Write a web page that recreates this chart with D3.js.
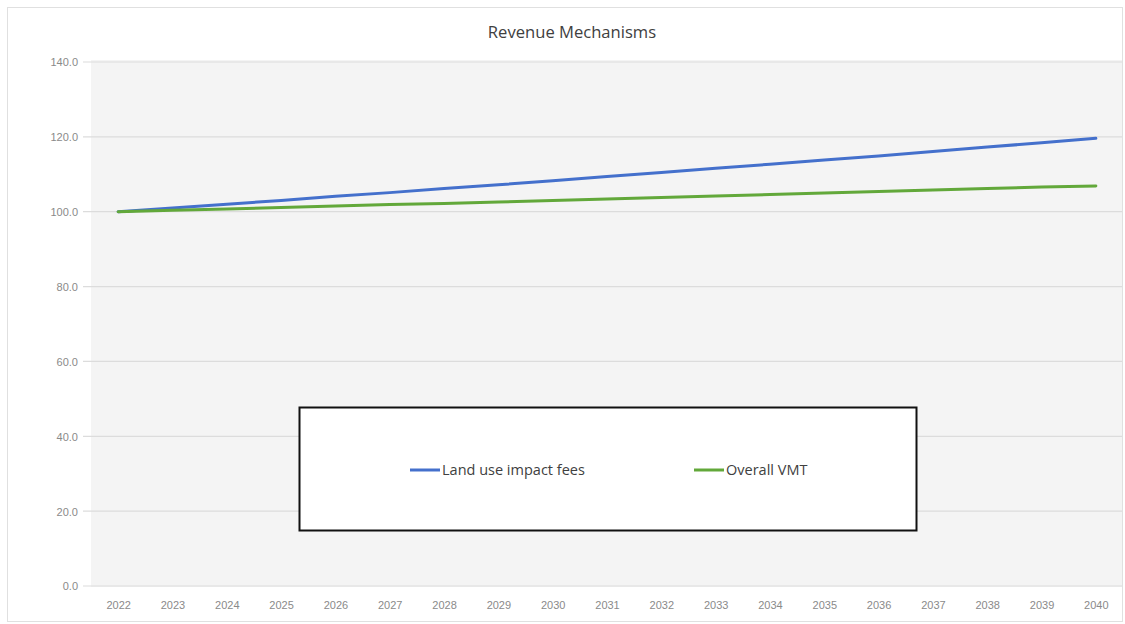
<!DOCTYPE html>
<html>
<head>
<meta charset="utf-8">
<script src="https://cdn.jsdelivr.net/npm/d3@7"></script>
<style>
  html, body { margin: 0; padding: 0; background: #ffffff; }
  svg { display: block; font-family: "Open Sans", "Noto Sans", sans-serif; }
</style>
</head>
<body>
<svg id="chart" width="1125" height="624"></svg>
<script>
// Years on the horizontal axis
const years = ["2022","2023","2024","2025","2026","2027","2028","2029","2030","2031",
               "2032","2033","2034","2035","2036","2037","2038","2039","2040"];

// Index values (2022 = 100)
const landUseFees = [100.0, 101.0, 102.0, 103.0, 104.1, 105.1, 106.2, 107.2, 108.3, 109.4,
                     110.5, 111.6, 112.7, 113.8, 114.9, 116.1, 117.3, 118.4, 119.6];
const overallVMT  = [100.0, 100.4, 100.7, 101.1, 101.5, 101.9, 102.2, 102.6, 103.0, 103.4,
                     103.8, 104.2, 104.6, 105.0, 105.4, 105.8, 106.2, 106.6, 106.9];

const yTicks = [0, 20, 40, 60, 80, 100, 120, 140];

const seriesNames = ["Land use impact fees", "Overall VMT"];
const seriesColors = ["#4470cc", "#62a83a"];

const svg = d3.select("#chart");
const W = 1125, H = 624;
const plot = { left: 91, right: 1123, top: 62, bottom: 586 };

// Outer chart frame
svg.append("rect")
  .attr("x", 7.5).attr("y", 7.5).attr("width", W - 10).attr("height", H - 10)
  .attr("fill", "#ffffff").attr("stroke", "#e0e0e0").attr("stroke-width", 1);

// Plot area background
svg.append("rect")
  .attr("x", plot.left).attr("y", plot.top - 2)
  .attr("width", 1122 - plot.left).attr("height", plot.bottom - plot.top + 3)
  .attr("fill", "#f4f4f4");

const x = d3.scalePoint().domain(years)
  .range([plot.left, plot.right]).padding(0.5);
const y = d3.scaleLinear().domain([0, 140]).range([plot.bottom, plot.top]);

// Horizontal gridlines
svg.append("g").selectAll("line").data(yTicks).join("line")
  .attr("x1", plot.left - 8).attr("x2", 1122)
  .attr("y1", d => y(d)).attr("y2", d => y(d))
  .attr("stroke", "#dcdcdc").attr("stroke-width", 1.2);

// Y axis labels
const yAxis = d3.axisLeft(y).tickValues(yTicks).tickSize(0).tickPadding(0)
  .tickFormat(d3.format(".1f"));
svg.append("g")
  .attr("transform", `translate(${plot.left - 13},0)`)
  .call(yAxis)
  .call(g => g.select(".domain").remove())
  .selectAll("text")
  .attr("fill", "#8a8a8a").attr("font-size", 11).attr("dy", "0.35em");

// X axis labels
const xAxis = d3.axisBottom(x).tickSize(0).tickPadding(0);
svg.append("g")
  .attr("transform", `translate(0,${plot.bottom + 19})`)
  .call(xAxis)
  .call(g => g.select(".domain").remove())
  .selectAll("text")
  .attr("fill", "#8a8a8a").attr("font-size", 11).attr("dy", "0.35em");

// Series lines
const line = d3.line().x((d, i) => x(years[i])).y(d => y(d));
[landUseFees, overallVMT].forEach((vals, k) => {
  svg.append("path")
    .datum(vals)
    .attr("d", line)
    .attr("fill", "none")
    .attr("stroke", seriesColors[k])
    .attr("stroke-width", 3)
    .attr("stroke-linecap", "round")
    .attr("stroke-linejoin", "round");
});

// Title
svg.append("text")
  .attr("x", 572).attr("y", 38)
  .attr("text-anchor", "middle")
  .attr("font-size", 16.6)
  .attr("fill", "#404040")
  .text("Revenue Mechanisms");

// Legend box
const legend = svg.append("g");
legend.append("rect")
  .attr("x", 299.5).attr("y", 407.5).attr("width", 617).attr("height", 123)
  .attr("fill", "#ffffff").attr("stroke", "#111111").attr("stroke-width", 2);

const legendX = [410, 694];
seriesNames.forEach((name, k) => {
  legend.append("line")
    .attr("x1", legendX[k]).attr("x2", legendX[k] + 30)
    .attr("y1", 470).attr("y2", 470)
    .attr("stroke", seriesColors[k]).attr("stroke-width", 3);
  legend.append("text")
    .attr("x", legendX[k] + 32).attr("y", 470)
    .attr("dy", "0.35em")
    .attr("font-size", 14.5)
    .attr("fill", "#404040")
    .text(name);
});
</script>
</body>
</html>
